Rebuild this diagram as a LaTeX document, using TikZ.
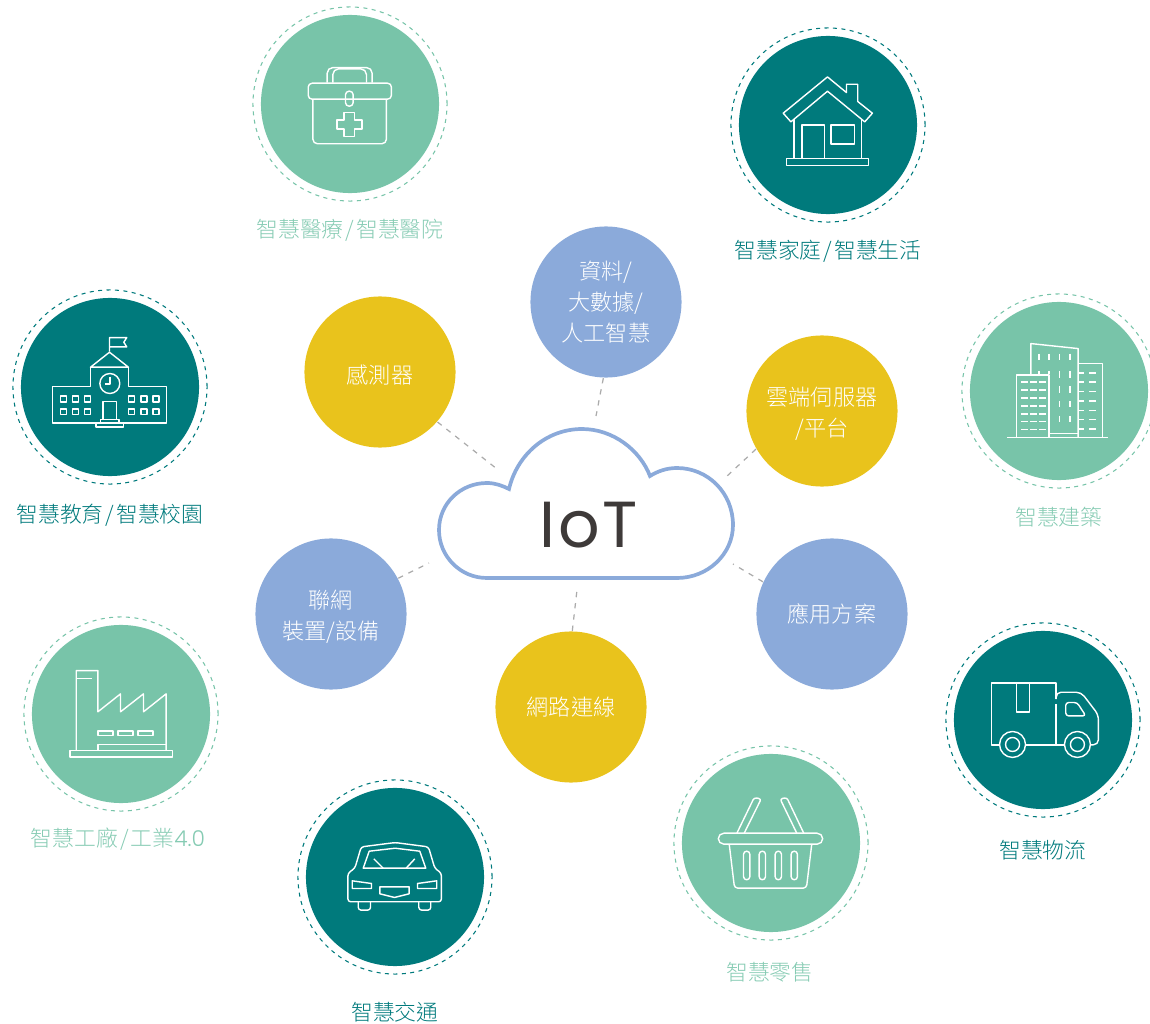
\documentclass[tikz,border=0pt]{standalone}
\usepackage{fontspec}
\newfontfamily\cjk{Noto Sans CJK TC Light}
\newfontfamily\latinfont{Poppins}
\newfontfamily\latinlight{Poppins Light}
\newcommand{\gapslash}{\kern.55pt/\kern.55pt}
\definecolor{deepteal}{HTML}{007A7C}
\definecolor{softgreen}{HTML}{78C4A9}
\definecolor{softtext}{HTML}{86CBB3}
\definecolor{chipyellow}{HTML}{E9C31C}
\definecolor{chipblue}{HTML}{8BAADA}
\definecolor{linkgray}{HTML}{ABABAB}
\definecolor{titledark}{HTML}{3E3A39}
\tikzset{
  fieldhub/.style={circle, minimum size=1.78cm, inner sep=0pt},
  fieldring/.style={circle, minimum size=1.94cm, inner sep=0pt, line width=0.3pt, dash pattern=on 1.15pt off 1.25pt},
  fieldlabel/.style={inner sep=0pt, font=\cjk\fontsize{6.2}{8}\selectfont},
  techchip/.style={circle, minimum size=1.51cm, inner sep=0pt},
  chiptext/.style={inner sep=0pt, align=center, text=white, font=\cjk\fontsize{6.3}{8.8}\selectfont},
  linkline/.style={draw=linkgray, line width=0.35pt, dash pattern=on 1.5pt off 1.7pt},
  iconline/.style={draw=white, line width=0.4pt, line join=round},
  crop/.style 2 args={shift={(#1,#2)}, x=0.00333cm, y=-0.00333cm}
}
\begin{document}
\begin{tikzpicture}[x=0.01cm, y=-0.01cm]
  \useasboundingbox (0,0) rectangle (1150,1024);
  % outer fields
  \foreach \name/\x/\y/\tone in {health/350/104/softgreen, home/828/125/deepteal, school/110/387/deepteal, tower/1059/391/softgreen, factory/121/714/softgreen, truck/1043/720/deepteal, car/395/877/deepteal, basket/771/843/softgreen} {
    \node[fieldhub, fill=\tone] (\name) at (\x,\y) {};
    \node[fieldring, draw=\tone] (\name-ring) at (\x,\y) {};
  }
  \foreach \name/\x/\y/\tone/\txt in {health/350/230/softtext/{智慧醫療\gapslash 智慧醫院}, home/828/251/deepteal/{智慧家庭\gapslash 智慧生活}, school/110/515/deepteal/{智慧教育\gapslash 智慧校園}, tower/1059/517/softtext/{智慧建築}, factory/118/839/softtext/{智慧工廠\gapslash 工業{\latinlight 4.0}}, truck/1043/850/deepteal/{智慧物流}, car/395/1012/deepteal/{智慧交通}, basket/770/972/softtext/{智慧零售}} {
    \node[fieldlabel, text=\tone] (\name-label) at (\x,\y) {\txt};
  }
  % inner chips
  \foreach \name/\x/\y/\ty/\tone/\txt in {sensor/380/372/375/chipyellow/{感測器}, data/606/302/302/chipblue/{資料/\\大數據/\\人工智慧}, cloudsrv/822/411/414/chipyellow/{雲端伺服器\\/平台}, apps/832/614/614/chipblue/{應用方案}, network/571/707/707/chipyellow/{網路連線}, device/331/614/617/chipblue/{聯網\\裝置/設備}} {
    \node[techchip, fill=\tone] (\name) at (\x,\y) {};
    \node[chiptext] (\name-text) at (\x,\ty) {\txt};
  }
  \coordinate (sensor-end) at (497,469);
  \coordinate (data-end) at (596,416);
  \coordinate (cloudsrv-end) at (726,477);
  \coordinate (apps-end) at (733,564);
  \coordinate (network-end) at (577,590);
  \coordinate (device-end) at (429,563);
  \foreach \name/\ang in {sensor/-41,data/-92,cloudsrv/-150,apps/155,network/89,device/28} {
    \draw[linkline] (\name.\ang) -- (\name-end);
  }
  % cloud
  \draw[draw=chipblue, line width=1.05pt, fill=white] (487,578) .. controls (460.5,578) and (439,556.5) .. (439,530)
    .. controls (439,503.5) and (460.5,483) .. (487,483) .. controls (495,483) and (502,485.5) .. (509,489)
    .. controls (517,455) and (546,429) .. (582,429) .. controls (613,429) and (640,450) .. (650,476)
    .. controls (658,471) and (667,468) .. (677,468) .. controls (708,468) and (733,493) .. (733,525)
    .. controls (733,554) and (708,578) .. (677,578) -- cycle;
  \node[text=titledark, inner sep=0pt, font=\latinfont\fontsize{18.5}{20}\selectfont] (iot) at (588.5,525) {I\kern.8pt o\kern.8pt T};
  % health kit
  \begin{scope}[crop={240}{0}, iconline]
    \draw[rounded corners=1.6pt] (262,248) -- (262,203) -- (397,203) -- (397,248);
    \draw[rounded corners=1.6pt] (279,248) -- (279,207) -- (380,207) -- (380,248);
    \draw[rounded corners=1.1pt] (205,250) rectangle (455,298);
    \draw[rounded corners=1pt] (317,274) rectangle (340,319);
    \draw[rounded corners=1.3pt] (219,298) -- (219,432) -- (440,432) -- (440,298);
    \draw (313,338) -- (344,338) -- (344,360) -- (367,360) -- (367,388) -- (344,388) -- (344,411) -- (313,411) -- (313,388) -- (292,388) -- (292,360) -- (313,360) -- cycle;
  \end{scope}
  % house
  \begin{scope}[crop={720}{25}, iconline]
    \draw (190,265) -- (323,156) -- (380,203) -- (380,178) -- (414,178) -- (414,230) -- (458,265) -- (435,291) -- (323,199) -- (213,291) -- cycle;
    \draw (222,282) -- (222,402) -- (246,402) -- (246,300) -- (314,300) -- (314,402) -- (425,402) -- (425,282);
    \draw (334,300) rectangle (404,357);
    \draw (200,402) rectangle (447,422);
  \end{scope}
  % school
  \begin{scope}[crop={0}{285}, iconline]
    \draw (329,200) -- (329,158) -- (381,158) -- (372,172) -- (381,186) -- (329,186);
    \draw (272,247) -- (329,202) -- (386,247) -- cycle;
    \draw (272,247) -- (272,305) -- (158,305) -- (158,415) -- (501,415) -- (501,305) -- (386,305) -- (386,247);
    \draw (330,296) circle (30);
    \draw (330,275) -- (330,298) -- (315,298);
    \foreach \x in {181,218,254,386,424,460} {
      \foreach \y in {333,372} {
        \draw (\x,\y) rectangle ++(18,18);
      }
    }
    \draw (309,404) -- (309,350) -- (350,350) -- (350,404);
    \draw (302,404) rectangle (358,415);
    \draw (289,415) rectangle (371,427);
  \end{scope}
  % office towers
  \begin{scope}[crop={950}{290}, iconline]
    \draw (243,255) -- (243,161) -- (385,176) -- (385,443);
    \draw (385,221) -- (458,221) -- (458,443);
    \draw (200,255) rectangle (298,443);
    \draw (298,432) -- (385,432);
    \draw (172,443) -- (476,443);
    \foreach \x in {268,298} {
      \draw (\x,191) -- (\x,211);
      \draw (\x,243) -- (\x,253);
    }
    \foreach \x in {329,360} {
      \foreach \y in {191,243,288,333,378} {
        \draw (\x,\y) -- ++(0,20);
      }
    }
    \foreach \y in {276,300,324,348,372,395,419} {
      \foreach \x in {213,240,267} {
        \draw (\x,\y) -- ++(20,0);
      }
    }
    \foreach \y in {249,277,305,334,362,390,418} {
      \draw (385,\y) -- (403,\y);
      \draw (419,\y) -- (439,\y);
    }
  \end{scope}
  % factory
  \begin{scope}[crop={20}{610}, iconline]
    \draw (169,422) -- (169,182) -- (234,182) -- (234,306) -- (302,252) -- (302,306) -- (371,252) -- (371,306) -- (439,252) -- (439,422);
    \draw (169,205) -- (216,205);
    \foreach \x in {234,295,355} {
      \draw (\x,364) rectangle ++(45,14);
    }
    \draw (234,422) -- (234,405) -- (439,405);
    \draw (150,423) rectangle (458,442);
  \end{scope}
  % truck
  \begin{scope}[crop={940}{620}, iconline]
    \draw (349,238) -- (349,189) -- (155,189) -- (155,375) -- (179,375);
    \draw (257,375) -- (373,375);
    \draw (349,252) -- (349,375);
    \draw (230,189) -- (230,277) -- (269,277) -- (269,189);
    \draw[rounded corners=1.4pt] (349,238) -- (349,217) -- (424,217) -- (476,285) -- (476,375) -- (453,375);
    \draw[rounded corners=0.8pt] (378,248) -- (412,248) -- (438,288) -- (378,288) -- cycle;
    \foreach \x in {218,413} {
      \draw (\x,374) circle (39);
      \draw (\x,374) circle (21);
    }
  \end{scope}
  % car
  \begin{scope}[crop={290}{775}, iconline]
    \draw[rounded corners=0.8pt] (174,381) -- (174,295) -- (195,280) -- (214,216) -- (316,203) -- (416,216) -- (435,280) -- (455,295) -- (455,381) -- cycle;
    \draw (220,280) -- (238,229) -- (316,220) -- (390,229) -- (408,280) -- cycle;
    \draw (252,252) -- (280,280);
    \draw (375,252) -- (349,280);
    \draw (187,318) -- (245,326) -- (245,341) -- (187,341) -- cycle;
    \draw (441,318) -- (383,326) -- (383,341) -- (441,341) -- cycle;
    \draw (270,336) -- (358,336) -- (358,357) -- (314,368) -- (270,357) -- cycle;
    \draw[rounded corners=0.8pt] (205,381) -- (205,406) -- (242,406) -- (242,381);
    \draw[rounded corners=0.8pt] (387,381) -- (387,406) -- (423,406) -- (423,381);
  \end{scope}
  % basket
  \begin{scope}[crop={665}{745}, iconline]
    \draw[rounded corners=1.6pt] (160,265) rectangle (474,298);
    \draw[rounded corners=0.9pt] (193,298) -- (209,430) -- (425,430) -- (441,298);
    \foreach \x in {236,283,331,379} {
      \draw[rounded corners=0.9pt] (\x,319) rectangle ++(19,86);
    }
    \draw[rounded corners=0.7pt] (216,265) -- (268,158) -- (289,162) -- (238,265);
    \draw[rounded corners=0.7pt] (417,265) -- (366,158) -- (346,162) -- (396,265);
  \end{scope}
\end{tikzpicture}
\end{document}
